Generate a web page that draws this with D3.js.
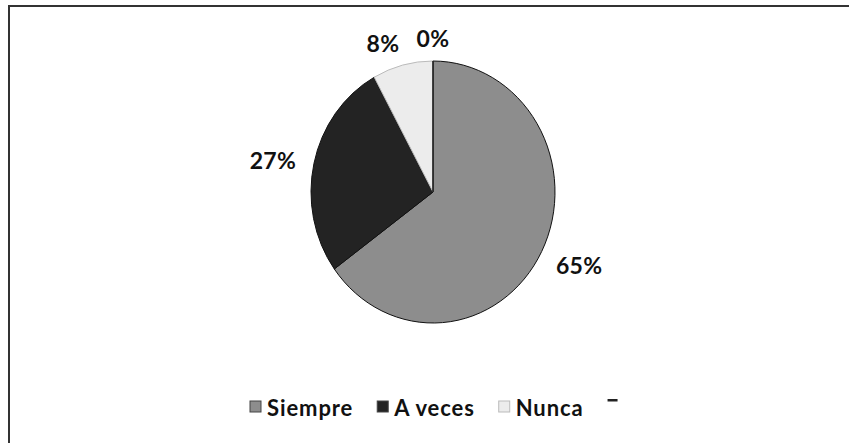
<!DOCTYPE html>
<html>
<head>
<meta charset="utf-8">
<script src="https://cdn.jsdelivr.net/npm/d3@7"></script>
<style>
  html, body { margin: 0; padding: 0; background: #fff; }
  svg { display: block; }
  text { font-family: Lato, "Open Sans", sans-serif; fill: #111; }
</style>
</head>
<body>
<svg id="chart" width="849" height="443"></svg>
<script>
const categories = ["Siempre", "A veces", "Nunca", ""];
const values = [65, 27, 8, 0];
const percentLabels = ["65%", "27%", "8%", "0%"];
const colors = ["#8d8d8d", "#232323", "#ececec", "#ffffff"];

const W = 849, H = 443;
const cx = 433, cy = 192, rx = 122, ry = 131;
const svg = d3.select("#chart");

// frame
svg.append("rect").attr("x", 9).attr("y", 6).attr("width", W + 20).attr("height", H + 20)
  .attr("fill", "none").attr("stroke", "#333").attr("stroke-width", 2);

const pie = d3.pie().sort(null).value(d => d)(values);
const arc = d3.arc().innerRadius(0).outerRadius(rx);

const g = svg.append("g").attr("transform", `translate(${cx},${cy}) scale(1,${ry / rx})`);
g.selectAll("path").data(pie).enter().append("path")
  .attr("d", arc)
  .attr("fill", (d, i) => colors[i])
  .attr("stroke", (d, i) => i === 2 ? "#bbb" : "#111")
  .attr("stroke-width", 1)
  .attr("vector-effect", "non-scaling-stroke");

// labels
const lr = 164;
const labs = pie.map((d, i) => {
  const a = (d.startAngle + d.endAngle) / 2;
  return { text: percentLabels[i], x: cx + lr * Math.sin(a), y: cy - lr * Math.cos(a) * 0.95 + 2 };
});
// resolve overlaps (push earlier label left)
for (let i = labs.length - 2; i >= 0; i--) {
  const a = labs[i], b = labs[i + 1];
  if (Math.abs(a.y - b.y) < 22 && Math.abs(a.x - b.x) < 50) {
    a.x = b.x - 50;
  }
}
svg.selectAll("text.lab").data(labs).enter().append("text")
  .attr("class", "lab")
  .attr("x", d => d.x).attr("y", d => d.y)
  .attr("text-anchor", "middle").attr("dominant-baseline", "central")
  .style("font-size", "23px").style("font-weight", "bold").style("letter-spacing", "0.3px")
  .text(d => d.text);

// legend
const lg = svg.append("g");
let x = 0;
categories.forEach((c, i) => {
  const it = lg.append("g").attr("transform", `translate(${x},0)`);
  if (i < 3) {
    it.append("rect").attr("x", 0).attr("y", -6).attr("width", 11).attr("height", 11)
      .attr("fill", colors[i]).attr("stroke", i === 2 ? "#bbb" : "#444");
  } else {
    it.append("rect").attr("x", 0).attr("y", -8).attr("width", 10).attr("height", 2.5)
      .attr("fill", "#222");
  }
  const t = it.append("text").attr("x", 17).attr("y", 0).attr("dominant-baseline", "central")
    .style("font-size", "22px").style("font-weight", "bold").style("letter-spacing", "0.9px").text(c);
  const w = c ? t.node().getComputedTextLength() : 0;
  x += 17 + w + 24;
});
lg.attr("transform", `translate(250,407)`);
</script>
</body>
</html>
